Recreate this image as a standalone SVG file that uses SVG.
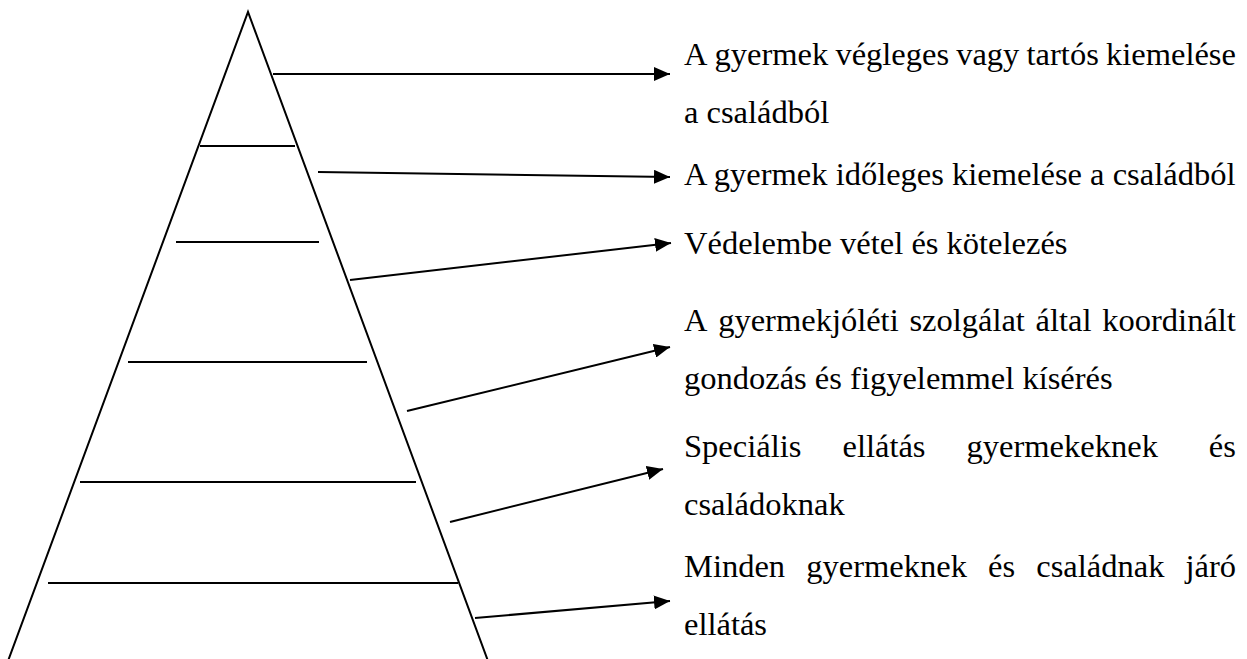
<svg xmlns="http://www.w3.org/2000/svg" width="1247" height="659" viewBox="0 0 1247 659">
<defs>
<marker id="ah" viewBox="0 0 16 14" refX="16" refY="7" markerWidth="16" markerHeight="14" markerUnits="userSpaceOnUse" orient="auto">
<path d="M0,0 L16,7 L0,14 Z" fill="#000"/>
</marker>
<style>
.ln{stroke:#000;stroke-width:2;fill:none}
.ar{stroke:#000;stroke-width:2;fill:none;marker-end:url(#ah)}
text{font-family:"Liberation Serif","Times New Roman",serif;font-size:32.5px;fill:#000}
</style>
</defs>
<rect width="1247" height="659" fill="#fff"/>
<g id="pyramid">
<polyline class="ln" points="8,661 248,12 488,661"/>
<line class="ln" x1="200" y1="146" x2="295" y2="146"/>
<line class="ln" x1="176" y1="242" x2="319" y2="242"/>
<line class="ln" x1="128" y1="362" x2="367" y2="362"/>
<line class="ln" x1="80" y1="482" x2="416" y2="482"/>
<line class="ln" x1="48" y1="583" x2="458" y2="583"/>
</g>
<g id="connectors">
<line class="ar" x1="273" y1="74" x2="670" y2="74"/>
<line class="ar" x1="318" y1="172" x2="670" y2="177"/>
<line class="ar" x1="350" y1="280" x2="671" y2="243"/>
<line class="ar" x1="407" y1="411" x2="670" y2="347"/>
<line class="ar" x1="450" y1="522" x2="663" y2="469"/>
<line class="ar" x1="475" y1="618" x2="670" y2="601"/>
</g>
<g id="label1">
<text y="65"><tspan x="684">A</tspan><tspan x="714.6">gyermek</tspan><tspan x="835.4">végleges</tspan><tspan x="956.2">vagy</tspan><tspan x="1026.6">tartós</tspan><tspan x="1106">kiemelése</tspan></text>
<text x="684" y="123">a családból</text>
</g>
<g id="label2">
<text x="684" y="185">A gyermek időleges kiemelése a családból</text>
</g>
<g id="label3">
<text x="684" y="254">Védelembe vétel és kötelezés</text>
</g>
<g id="label4">
<text y="331"><tspan x="684">A</tspan><tspan x="718.2">gyermekjóléti</tspan><tspan x="909.4">szolgálat</tspan><tspan x="1035.6">által</tspan><tspan x="1102.3">koordinált</tspan></text>
<text x="684" y="389">gondozás és figyelemmel kísérés</text>
</g>
<g id="label5">
<text y="457"><tspan x="684">Speciális</tspan><tspan x="842.5">ellátás</tspan><tspan x="966.6">gyermekeknek</tspan><tspan x="1208.8">és</tspan></text>
<text x="684" y="515">családoknak</text>
</g>
<g id="label6">
<text y="577"><tspan x="684">Minden</tspan><tspan x="806.25">gyermeknek</tspan><tspan x="988">és</tspan><tspan x="1036.25">családnak</tspan><tspan x="1185.5">járó</tspan></text>
<text x="684" y="635">ellátás</text>
</g>
</svg>
